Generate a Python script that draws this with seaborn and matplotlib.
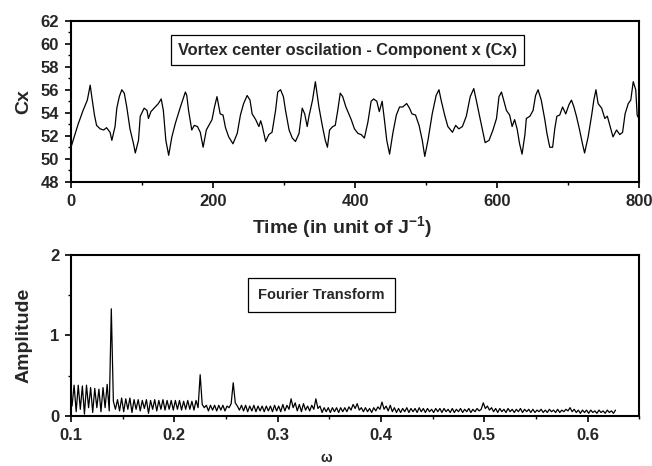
import numpy as np
import matplotlib
matplotlib.use('Agg')
import matplotlib.pyplot as plt
import matplotlib.ticker as ticker
import seaborn as sns

# values
time = [0, 5, 10, 17, 23, 27, 29, 33, 36, 41,
        46, 50, 55, 57.5, 62, 64.5, 68, 71.5, 75, 78.5,
        83, 88, 90.5, 95, 97.5, 103, 107, 109, 112.5, 118.5,
        123, 127, 130, 133.5, 137.5, 142, 147, 154, 161, 163,
        165.5, 170, 173.5, 178, 182, 186, 190.5, 194, 198.5, 202,
        205.5, 210, 214, 217.5, 222, 228, 234, 238.5, 243, 248,
        252, 255, 260, 264.5, 267, 269, 274, 278.5, 283, 288,
        291, 295, 299, 302, 307, 311.5, 316, 321, 325.5, 329,
        332.5, 335, 340, 344, 349, 354, 358, 361, 364, 368.5,
        372, 375.5, 379, 382.5, 387, 394.5, 399, 404, 408.5, 413,
        418, 422.5, 426, 430.5, 434, 438, 441, 444.5, 448.5, 453,
        458, 462.5, 467, 472.5, 476.5, 480, 485, 490, 494.5, 498,
        502.5, 508.5, 514, 518, 521, 526, 530.5, 537, 541.5, 546,
        551, 556.5, 562, 567, 570.5, 574.5, 580, 583, 588.5, 594,
        599, 602.5, 606, 609, 613, 617.5, 621, 624.5, 628, 631.5,
        635, 639, 641, 646, 650.5, 654, 657.5, 662, 667, 670,
        674, 678, 681, 684, 688, 692, 696.5, 701, 704.5, 708,
        711.5, 716, 720, 723, 728, 733, 736, 739, 742, 747,
        751.5, 755, 758.5, 763, 768, 772.5, 776.5, 780, 784.5, 788,
        791.5, 795, 797, 800]
cx = [51.0, 52.0, 53.0, 54.2, 55.1, 56.4, 55.5, 53.8, 52.9, 52.6,
      52.5, 52.7, 52.3, 51.6, 52.8, 54.4, 55.4, 56.0, 55.7, 54.5,
      52.6, 51.3, 50.5, 51.6, 53.7, 54.4, 54.2, 53.5, 54.1, 54.5,
      54.8, 55.2, 54.2, 51.6, 50.3, 51.9, 53.1, 54.5, 55.8, 55.5,
      54.2, 52.5, 52.9, 52.8, 52.3, 51.0, 52.5, 52.9, 53.4, 54.5,
      55.4, 53.9, 53.8, 52.7, 51.9, 51.3, 52.2, 53.8, 54.8, 55.5,
      55.1, 53.9, 53.4, 52.8, 53.3, 52.9, 51.5, 52.1, 52.3, 54.2,
      55.8, 56.0, 55.4, 54.2, 52.5, 51.8, 51.5, 52.2, 54.4, 53.9,
      52.8, 53.7, 55.1, 56.7, 54.5, 52.8, 51.6, 51.0, 52.5, 52.8,
      52.9, 54.2, 55.7, 55.4, 54.5, 53.4, 52.6, 52.2, 52.1, 51.8,
      53.2, 55.0, 55.2, 55.0, 54.1, 55.0, 53.5, 51.6, 50.4, 52.2,
      53.8, 54.5, 54.5, 54.8, 54.4, 53.9, 53.8, 52.9, 51.6, 50.2,
      51.6, 53.9, 55.5, 56.0, 55.1, 53.8, 52.8, 52.3, 52.9, 52.6,
      52.8, 53.7, 55.4, 56.1, 55.1, 53.9, 52.3, 51.4, 51.6, 52.5,
      53.5, 55.4, 55.8, 55.1, 54.2, 53.8, 52.8, 53.4, 52.6, 51.3,
      50.4, 52.1, 53.5, 53.7, 54.2, 55.5, 56.0, 55.1, 53.4, 52.2,
      51.0, 51.0, 52.6, 53.7, 53.8, 54.5, 53.9, 54.7, 55.1, 54.5,
      53.7, 52.5, 51.3, 50.5, 51.9, 53.8, 55.1, 56.0, 54.8, 54.4,
      53.5, 53.7, 52.9, 51.9, 52.5, 52.1, 52.3, 53.9, 54.8, 55.1,
      56.7, 56.0, 53.8, 53.4]

amp = [0.12, 0.38, 0.05, 0.38, 0.08, 0.37, 0.02, 0.38, 0.10, 0.35, 0.04, 0.34, 0.10, 0.33, 0.05, 0.35, 0.10, 0.39, 0.06, 1.33,
       0.18, 0.08, 0.20, 0.06, 0.22, 0.05, 0.21, 0.08, 0.22, 0.04, 0.20, 0.08, 0.20, 0.06, 0.19, 0.09, 0.20, 0.03, 0.19, 0.08,
       0.20, 0.06, 0.19, 0.08, 0.20, 0.07, 0.19, 0.08, 0.19, 0.07, 0.19, 0.08, 0.19, 0.07, 0.18, 0.08, 0.19, 0.08, 0.18, 0.07,
       0.19, 0.10, 0.51, 0.14, 0.10, 0.13, 0.06, 0.13, 0.07, 0.13, 0.06, 0.13, 0.07, 0.13, 0.06, 0.12, 0.10, 0.15, 0.41, 0.16,
       0.12, 0.07, 0.13, 0.06, 0.13, 0.05, 0.12, 0.06, 0.13, 0.05, 0.12, 0.06, 0.12, 0.05, 0.12, 0.06, 0.12, 0.05, 0.13, 0.06,
       0.12, 0.05, 0.14, 0.06, 0.13, 0.08, 0.21, 0.10, 0.16, 0.06, 0.14, 0.05, 0.15, 0.07, 0.12, 0.06, 0.13, 0.08, 0.21, 0.09,
       0.12, 0.04, 0.10, 0.05, 0.10, 0.04, 0.10, 0.05, 0.10, 0.04, 0.10, 0.05, 0.10, 0.05, 0.11, 0.07, 0.14, 0.09, 0.15, 0.07,
       0.10, 0.05, 0.10, 0.05, 0.09, 0.04, 0.10, 0.06, 0.11, 0.08, 0.17, 0.08, 0.12, 0.06, 0.13, 0.05, 0.10, 0.04, 0.09, 0.04,
       0.09, 0.05, 0.10, 0.04, 0.09, 0.05, 0.09, 0.04, 0.10, 0.05, 0.09, 0.04, 0.09, 0.05, 0.08, 0.04, 0.09, 0.05, 0.09, 0.04,
       0.09, 0.05, 0.08, 0.04, 0.09, 0.04, 0.08, 0.05, 0.09, 0.04, 0.08, 0.05, 0.09, 0.04, 0.08, 0.05, 0.09, 0.06, 0.08, 0.16,
       0.09, 0.12, 0.07, 0.10, 0.05, 0.09, 0.04, 0.09, 0.05, 0.08, 0.04, 0.09, 0.05, 0.08, 0.04, 0.08, 0.05, 0.09, 0.04, 0.08,
       0.05, 0.08, 0.04, 0.08, 0.04, 0.07, 0.05, 0.08, 0.04, 0.07, 0.04, 0.08, 0.05, 0.07, 0.04, 0.08, 0.04, 0.07, 0.05, 0.08,
       0.06, 0.10, 0.05, 0.08, 0.04, 0.07, 0.03, 0.07, 0.04, 0.07, 0.03, 0.07, 0.04, 0.06, 0.03, 0.07, 0.04, 0.06, 0.03, 0.07,
       0.04, 0.06, 0.03, 0.07]
# regular frequency grid of the transform
omega = np.round(0.101 + 0.002 * np.arange(len(amp)), 3)

sns.set_style('white')
sns.set_style('ticks')
plt.rcParams['font.family'] = ['Liberation Sans', 'DejaVu Sans']
plt.rcParams['font.weight'] = 'bold'
plt.rcParams['axes.labelweight'] = 'bold'
plt.rcParams['mathtext.fontset'] = 'custom'
plt.rcParams['mathtext.rm'] = 'Liberation Sans:bold'
plt.rcParams['mathtext.bf'] = 'Liberation Sans:bold'

fig = plt.figure(figsize=(6.52, 4.66), dpi=100)
ax1 = fig.add_axes([0.1089, 0.610, 0.8716, 0.3455])
ax2 = fig.add_axes([0.1089, 0.1079, 0.8716, 0.345])

sns.lineplot(x=time, y=cx, ax=ax1, color='black', linewidth=0.9, estimator=None)
sns.lineplot(x=omega, y=amp, ax=ax2, color='black', linewidth=0.9, estimator=None)

ax1.set_xlim(0, 800)
ax1.set_ylim(48, 62)
ax1.xaxis.set_major_locator(ticker.MultipleLocator(200))
ax1.xaxis.set_minor_locator(ticker.MultipleLocator(100))
ax1.yaxis.set_major_locator(ticker.MultipleLocator(2))
ax1.yaxis.set_minor_locator(ticker.MultipleLocator(1))

ax2.set_xlim(0.1, 0.65)
ax2.set_ylim(0, 2)
ax2.xaxis.set_major_locator(ticker.MultipleLocator(0.1))
ax2.xaxis.set_minor_locator(ticker.MultipleLocator(0.05))
ax2.xaxis.set_major_formatter(ticker.FormatStrFormatter('%.1f'))
ax2.yaxis.set_major_locator(ticker.MultipleLocator(1))
ax2.yaxis.set_minor_locator(ticker.MultipleLocator(0.5))

for ax in (ax1, ax2):
    for s in ax.spines.values():
        s.set_linewidth(1.5)
        s.set_color('black')
    ax.tick_params(which='major', direction='out', length=4.5, width=1.2,
                   labelsize=12, pad=4, color='black')
    ax.tick_params(which='minor', direction='out', length=2.5, width=1.0, color='black')

ax1.set_ylabel('Cx', fontsize=14)
ax1.set_xlabel(r'Time (in unit of J$^{-1}$)', fontsize=14)
ax1.yaxis.set_label_coords(-0.068, 0.5)
ax1.xaxis.set_label_coords(0.476, -0.2)

ax2.set_ylabel('Amplitude', fontsize=14)
ax2.set_xlabel('ω', fontsize=10)
ax2.yaxis.set_label_coords(-0.068, 0.5)
ax2.xaxis.set_label_coords(0.45, -0.22)

ax1.text(0.4865, 0.818, 'Vortex center oscilation - Component x (Cx)',
         transform=ax1.transAxes, ha='center', va='center', fontsize=11.8,
         fontweight='bold',
         bbox=dict(boxstyle='square,pad=0.45', fc='white', ec='black', lw=0.9))
ax2.text(0.44, 0.751, 'Fourier Transform',
         transform=ax2.transAxes, ha='center', va='center', fontsize=10.5,
         fontweight='bold',
         bbox=dict(boxstyle='square,pad=0.7', fc='white', ec='black', lw=0.9))

fig.savefig('out.png', dpi=100)
